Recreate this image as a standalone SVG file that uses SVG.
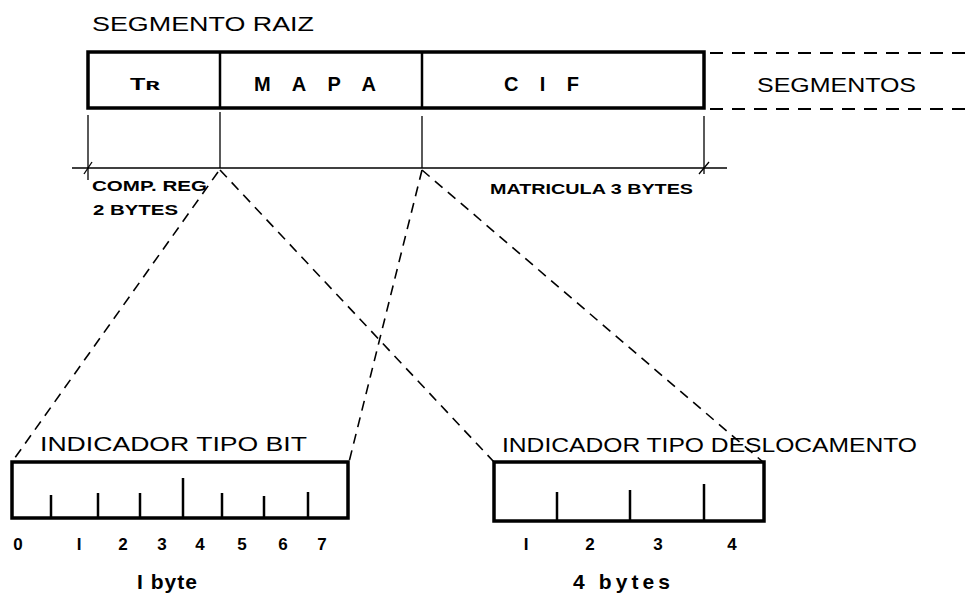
<svg xmlns="http://www.w3.org/2000/svg" width="968" height="595" viewBox="0 0 968 595">
<style>
text{font-family:"Liberation Sans",Arial,sans-serif;fill:#000}
.lbl{font-size:20px}
.sm{font-size:15px;font-weight:bold}
.dg{font-size:17px;font-weight:bold}
.box{fill:none;stroke:#000;stroke-width:3.5}
.div{stroke:#000;stroke-width:2.5}
.thin{stroke:#000;stroke-width:1.3;fill:none}
.dash{stroke:#000;stroke-width:1.6;fill:none;stroke-dasharray:10 7}
.dash2{stroke:#000;stroke-width:1.8;fill:none;stroke-dasharray:13 9}
</style>
<rect width="968" height="595" fill="#fff"/>
<g id="segmento-raiz">
<text class="lbl" x="92" y="31" textLength="222" lengthAdjust="spacingAndGlyphs">SEGMENTO  RAIZ</text>
<rect class="box" x="88" y="52" width="616" height="56"/>
<line class="div" x1="220" y1="52" x2="220" y2="108"/>
<line class="div" x1="422" y1="52" x2="422" y2="108"/>
<text x="130" y="90" style="font-size:17px;font-weight:bold" textLength="30" lengthAdjust="spacingAndGlyphs">Tʀ</text>
<text class="lbl" x="254" y="91" style="font-weight:bold" textLength="122" lengthAdjust="spacing">M A P A</text>
<text class="lbl" x="504" y="91" style="font-weight:bold" textLength="75" lengthAdjust="spacing">C I F</text>
</g>
<g id="segmentos">
<line class="dash2" x1="710" y1="53" x2="968" y2="53"/>
<line class="dash2" x1="710" y1="109" x2="968" y2="109"/>
<text class="lbl" x="757" y="92" textLength="159" lengthAdjust="spacingAndGlyphs">SEGMENTOS</text>
</g>
<g id="dimensions">
<line class="thin" x1="88" y1="115" x2="88" y2="180"/>
<line class="thin" x1="220" y1="112" x2="220" y2="168"/>
<line class="thin" x1="422" y1="116" x2="422" y2="168"/>
<line class="thin" x1="704" y1="116" x2="704" y2="174"/>
<line class="thin" x1="72" y1="168" x2="727" y2="168"/>
<line class="thin" x1="84" y1="174" x2="92" y2="162"/>
<line class="thin" x1="699" y1="174" x2="709" y2="162"/>
<text class="sm" x="92" y="191" textLength="115" lengthAdjust="spacingAndGlyphs">COMP. REG</text>
<text class="sm" x="93" y="215" textLength="85" lengthAdjust="spacingAndGlyphs">2 BYTES</text>
<text class="sm" x="490" y="194" textLength="203" lengthAdjust="spacingAndGlyphs">MATRICULA  3  BYTES</text>
</g>
<g id="connectors">
<line class="dash" x1="218" y1="172" x2="12" y2="462"/>
<line class="dash" x1="220" y1="170" x2="494" y2="462"/>
<line class="dash" x1="422" y1="170" x2="349" y2="462"/>
<line class="dash" x1="422" y1="170" x2="763" y2="462"/>
</g>
<g id="indicador-bit">
<text class="lbl" x="40" y="451" textLength="267" lengthAdjust="spacingAndGlyphs">INDICADOR  TIPO  BIT</text>
<rect class="box" x="12" y="462" width="336" height="56"/>
<line class="div" x1="51" y1="495" x2="51" y2="518"/>
<line class="div" x1="98" y1="493" x2="98" y2="518"/>
<line class="div" x1="140" y1="493" x2="140" y2="518"/>
<line class="div" x1="183" y1="478" x2="183" y2="518"/>
<line class="div" x1="222" y1="493" x2="222" y2="518"/>
<line class="div" x1="264" y1="496" x2="264" y2="518"/>
<line class="div" x1="308" y1="492" x2="308" y2="518"/>
<g text-anchor="middle">
<text class="dg" x="18" y="550">0</text>
<text class="dg" x="79" y="550">I</text>
<text class="dg" x="123" y="550">2</text>
<text class="dg" x="162" y="550">3</text>
<text class="dg" x="200" y="550">4</text>
<text class="dg" x="242" y="550">5</text>
<text class="dg" x="283" y="550">6</text>
<text class="dg" x="322" y="550">7</text>
</g>
<text x="137" y="589" style="font-size:21px;font-weight:bold" textLength="60" lengthAdjust="spacing">I byte</text>
</g>
<g id="indicador-deslocamento">
<text class="lbl" x="502" y="452" textLength="415" lengthAdjust="spacingAndGlyphs">INDICADOR  TIPO  DESLOCAMENTO</text>
<rect class="box" x="494" y="462" width="270" height="59"/>
<line class="div" x1="557" y1="492" x2="557" y2="521"/>
<line class="div" x1="630" y1="490" x2="630" y2="521"/>
<line class="div" x1="704" y1="484" x2="704" y2="521"/>
<g text-anchor="middle">
<text class="dg" x="526" y="550">I</text>
<text class="dg" x="590" y="550">2</text>
<text class="dg" x="658" y="550">3</text>
<text class="dg" x="732" y="550">4</text>
</g>
<text x="573" y="589" style="font-size:21px;font-weight:bold" textLength="97" lengthAdjust="spacing">4 bytes</text>
</g>
</svg>
